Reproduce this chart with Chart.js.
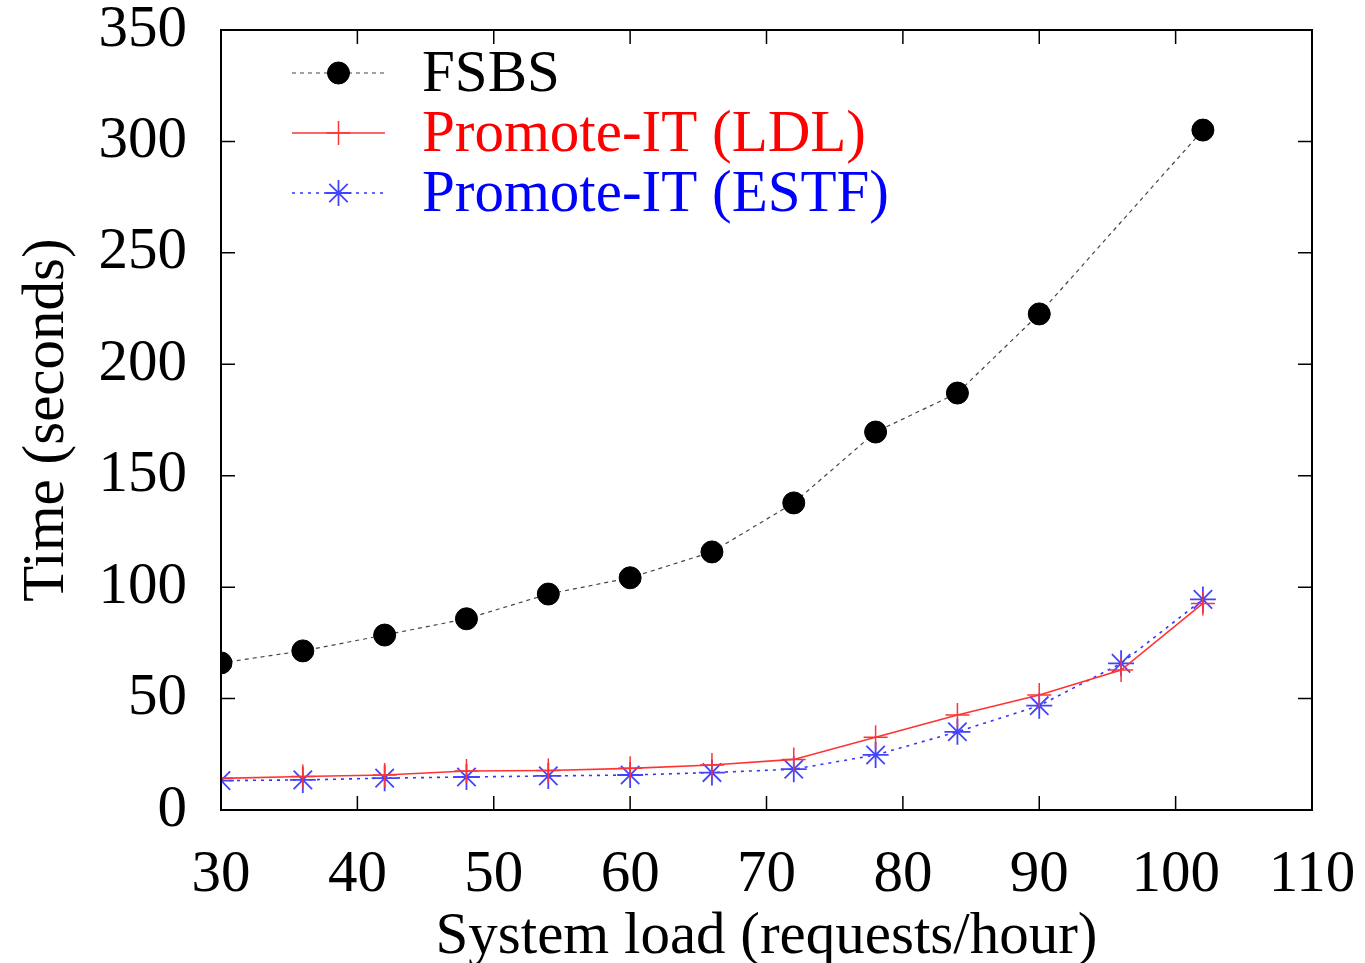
<!DOCTYPE html>
<html>
<head>
<meta charset="utf-8">
<script src="https://cdn.jsdelivr.net/npm/chart.js@4"></script>
<style>
  html, body { margin: 0; padding: 0; background: #fff; }
  #wrap { width: 1365px; height: 963px; }
</style>
</head>
<body>
<div id="wrap"><canvas id="loadChart"></canvas></div>
<script>
const loads = [30, 36, 42, 48, 54, 60, 66, 72, 78, 84, 90, 96, 102];
const fsbs = [66, 71.4, 78.5, 85.8, 96.9, 104.2, 115.8, 137.8, 169.6, 187.1, 222.6, null, 305.1];
const ldl = [14.2, 15, 15.7, 17.5, 17.7, 18.7, 20.2, 22.7, 32.6, 42.6, 51.6, 62.8, 92.7];
const estf = [13.2, 13.5, 14.3, 14.8, 15.3, 15.7, 16.8, 18.3, 24.7, 35.1, 46.8, 65.8, 94.5];
const xTicks = [30, 40, 50, 60, 70, 80, 90, 100, 110];
const yTicks = [0, 50, 100, 150, 200, 250, 300, 350];

const serif = '"Liberation Serif", "DejaVu Serif", serif';
const fontSize = 59;

function toPoints(ys) {
    return loads.map((x, i) => ({ x: x, y: ys[i] })).filter(p => p.y !== null);
}

// gnuplot-like frame with inward ticks on all four sides
const framePlugin = {
    id: 'frame',
    afterDatasetsDraw(chart) {
        const { ctx, chartArea: a, scales } = chart;
        ctx.save();
        ctx.strokeStyle = '#000';
        ctx.lineWidth = 2;
        ctx.strokeRect(a.left, a.top, a.right - a.left, a.bottom - a.top);
        ctx.lineWidth = 1.5;
        ctx.beginPath();
        xTicks.forEach(v => {
            const px = scales.x.getPixelForValue(v);
            ctx.moveTo(px, a.bottom); ctx.lineTo(px, a.bottom - 14);
            ctx.moveTo(px, a.top); ctx.lineTo(px, a.top + 14);
        });
        yTicks.forEach(v => {
            const py = scales.y.getPixelForValue(v);
            ctx.moveTo(a.left, py); ctx.lineTo(a.left + 14, py);
            ctx.moveTo(a.right, py); ctx.lineTo(a.right - 14, py);
        });
        ctx.stroke();
        ctx.restore();
    }
};

// legend: line sample with marker, coloured label text
const keyPlugin = {
    id: 'key',
    afterDraw(chart) {
        const { ctx, chartArea: a } = chart;
        const textColors = ['#000', '#ff0000', '#0000ff'];
        ctx.save();
        chart.data.datasets.forEach((ds, i) => {
            const y = a.top + 43 + i * 60;
            const x0 = a.left + 71, x1 = a.left + 164, xm = (x0 + x1) / 2;
            ctx.strokeStyle = ds.borderColor;
            ctx.lineWidth = ds.borderWidth;
            ctx.setLineDash(ds.borderDash || []);
            ctx.beginPath(); ctx.moveTo(x0, y); ctx.lineTo(x1, y); ctx.stroke();
            ctx.setLineDash([]);
            ctx.fillStyle = ds.pointBackgroundColor;
            ctx.strokeStyle = ds.pointBorderColor;
            ctx.lineWidth = ds.pointBorderWidth || 1.5;
            Chart.helpers.drawPoint(ctx, {
                pointStyle: ds.pointStyle,
                radius: ds.pointRadius,
                borderWidth: ds.pointBorderWidth || 1.5
            }, xm, y);
            ctx.font = fontSize + 'px ' + serif;
            ctx.fillStyle = textColors[i];
            ctx.textBaseline = 'middle';
            ctx.fillText(ds.label, a.left + 201, y + 2);
        });
        ctx.restore();
    }
};

const ctx = document.getElementById('loadChart').getContext('2d');
const loadChart = new Chart(ctx, {
    type: 'line',
    data: {
        datasets: [{
            label: 'FSBS',
            data: toPoints(fsbs),
            borderColor: '#444',
            borderWidth: 1.2,
            borderDash: [4, 4],
            pointStyle: 'circle',
            pointRadius: 11,
            pointBackgroundColor: '#000',
            pointBorderColor: '#000',
            pointBorderWidth: 1
        }, {
            label: 'Promote-IT (LDL)',
            data: toPoints(ldl),
            borderColor: '#ff3333',
            borderWidth: 1.6,
            pointStyle: 'cross',
            pointRadius: 12,
            pointBackgroundColor: '#ff0000',
            pointBorderColor: '#ff3333',
            pointBorderWidth: 1.5
        }, {
            label: 'Promote-IT (ESTF)',
            data: toPoints(estf),
            borderColor: '#3333ff',
            borderWidth: 1.6,
            borderDash: [3, 5],
            pointStyle: 'star',
            pointRadius: 13,
            pointBackgroundColor: '#0000ff',
            pointBorderColor: '#4444ff',
            pointBorderWidth: 1.8
        }]
    },
    options: {
        responsive: true,
        maintainAspectRatio: false,
        animation: false,
        layout: { padding: { top: 30, right: 53, left: 0, bottom: 0 } },
        plugins: {
            legend: { display: false },
            tooltip: { enabled: false }
        },
        scales: {
            x: {
                type: 'linear',
                min: 30,
                max: 110,
                afterFit(scale) {
                    scale.height = 153;
                    scale.paddingLeft = 0;
                    scale.paddingRight = 0;
                },
                afterBuildTicks(scale) { scale.ticks = xTicks.map(v => ({ value: v })); },
                grid: { display: false, drawTicks: false },
                border: { display: false },
                ticks: { color: '#000', font: { family: serif, size: fontSize }, padding: 30, maxRotation: 0 },
                title: {
                    display: true,
                    text: 'System load (requests/hour)',
                    color: '#000',
                    font: { family: serif, size: fontSize },
                    padding: { top: 0, bottom: -10 }
                }
            },
            y: {
                min: 0,
                max: 350,
                afterFit(scale) {
                    scale.width = 221;
                    scale.paddingTop = 0;
                    scale.paddingBottom = 0;
                },
                afterBuildTicks(scale) { scale.ticks = yTicks.map(v => ({ value: v })); },
                grid: { display: false, drawTicks: false },
                border: { display: false },
                ticks: { color: '#000', font: { family: serif, size: fontSize }, padding: 34 },
                title: {
                    display: true,
                    text: 'Time (seconds)',
                    color: '#000',
                    font: { family: serif, size: fontSize },
                    padding: { top: 12, bottom: 0 }
                }
            }
        }
    },
    plugins: [framePlugin, keyPlugin]
});
</script>
</body>
</html>
